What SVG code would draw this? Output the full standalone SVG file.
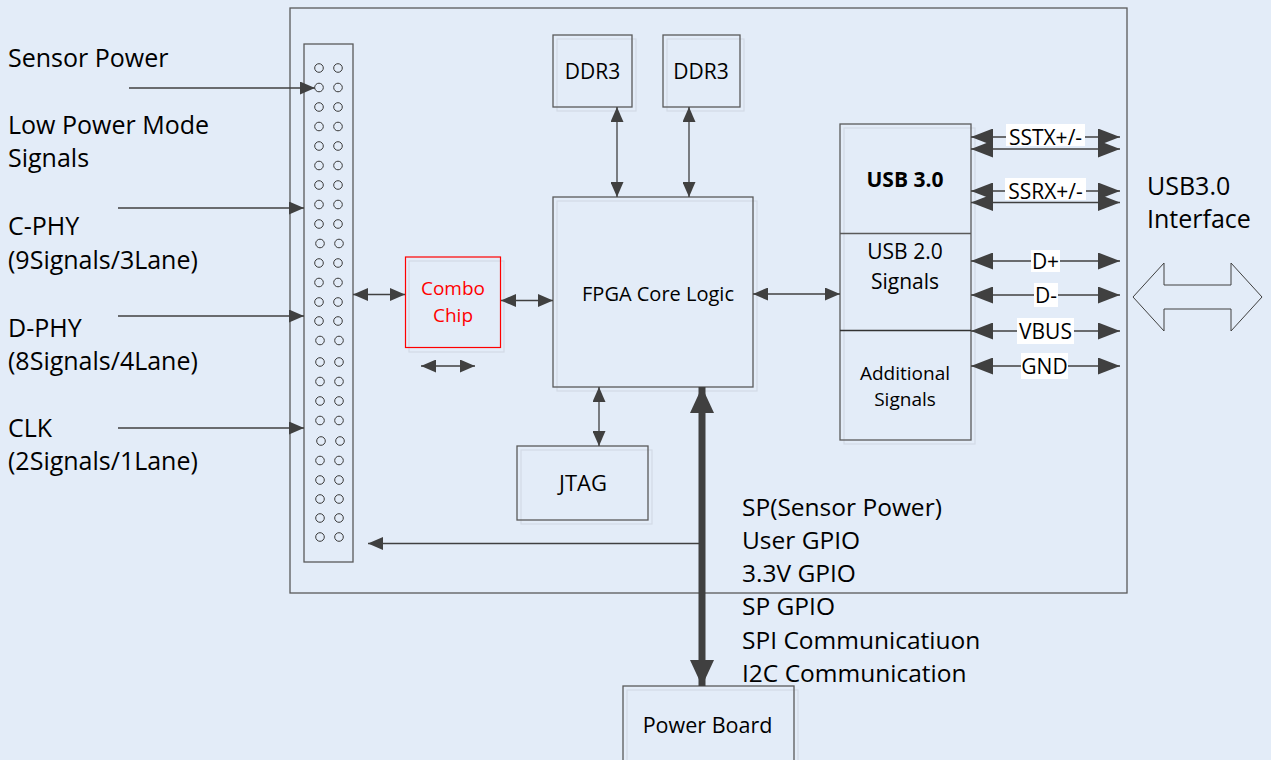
<svg xmlns="http://www.w3.org/2000/svg" width="1271" height="760" viewBox="0 0 1271 760">
<defs>
<style>
.t{font-family:"Open Sans","Liberation Sans",sans-serif;fill:#000}
.lbl{font-size:25px}
.bl{font-size:24.5px}
.in{font-size:21px;text-anchor:middle}
.box{fill:none;stroke:#5A5A5A;stroke-width:1.3}
.sh{fill:none;stroke:#D2DAE6;stroke-width:1.2}
.ln{fill:none;stroke:#404040;stroke-width:1.3}
.dot{fill:none;stroke:#3A3A3A;stroke-width:1}
.wb{fill:#FFFFFF}
</style>
<marker id="sm" markerUnits="userSpaceOnUse" markerWidth="15" markerHeight="13" refX="15" refY="6.5" orient="auto-start-reverse"><path d="M0,0 L15,6.5 L0,13 z" fill="#404040"/></marker>
<marker id="big" markerUnits="userSpaceOnUse" markerWidth="22" markerHeight="17" refX="22" refY="8.5" orient="auto-start-reverse"><path d="M0,0 L22,8.5 L0,17 z" fill="#404040"/></marker>
<marker id="thick" markerUnits="userSpaceOnUse" markerWidth="26" markerHeight="24" refX="26" refY="12" orient="auto-start-reverse"><path d="M0,0 L26,12 L0,24 z" fill="#404040"/></marker>
</defs>
<rect x="0" y="0" width="1271" height="760" fill="#E3ECF8"/>

<g id="frame"><rect x="290" y="8" width="837" height="585" class="box"/></g>

<g id="connector">
<rect x="304" y="44" width="49" height="518" class="box"/>
<g id="pins">
<circle cx="319" cy="68" r="4.3" class="dot"/><circle cx="338" cy="68" r="4.3" class="dot"/>
<circle cx="319" cy="87.5" r="4.3" class="dot"/><circle cx="338" cy="87.5" r="4.3" class="dot"/>
<circle cx="319" cy="107" r="4.3" class="dot"/><circle cx="338" cy="107" r="4.3" class="dot"/>
<circle cx="319" cy="126.5" r="4.3" class="dot"/><circle cx="338" cy="126.5" r="4.3" class="dot"/>
<circle cx="319" cy="146" r="4.3" class="dot"/><circle cx="338" cy="146" r="4.3" class="dot"/>
<circle cx="319" cy="165.5" r="4.3" class="dot"/><circle cx="338" cy="165.5" r="4.3" class="dot"/>
<circle cx="319" cy="185" r="4.3" class="dot"/><circle cx="338" cy="185" r="4.3" class="dot"/>
<circle cx="319" cy="204.5" r="4.3" class="dot"/><circle cx="338" cy="204.5" r="4.3" class="dot"/>
<circle cx="319" cy="224" r="4.3" class="dot"/><circle cx="338" cy="224" r="4.3" class="dot"/>
<circle cx="320" cy="243.5" r="4.3" class="dot"/><circle cx="339" cy="243.5" r="4.3" class="dot"/>
<circle cx="319" cy="263" r="4.3" class="dot"/><circle cx="338" cy="263" r="4.3" class="dot"/>
<circle cx="319" cy="282.5" r="4.3" class="dot"/><circle cx="338" cy="282.5" r="4.3" class="dot"/>
<circle cx="319" cy="302" r="4.3" class="dot"/><circle cx="338" cy="302" r="4.3" class="dot"/>
<circle cx="319" cy="321" r="4.3" class="dot"/><circle cx="338" cy="321" r="4.3" class="dot"/>
<circle cx="320" cy="340.5" r="4.3" class="dot"/><circle cx="339" cy="340.5" r="4.3" class="dot"/>
<circle cx="320" cy="362" r="4.3" class="dot"/><circle cx="339" cy="362" r="4.3" class="dot"/>
<circle cx="320" cy="381.5" r="4.3" class="dot"/><circle cx="339" cy="381.5" r="4.3" class="dot"/>
<circle cx="320" cy="401" r="4.3" class="dot"/><circle cx="339" cy="401" r="4.3" class="dot"/>
<circle cx="320" cy="420.5" r="4.3" class="dot"/><circle cx="339" cy="420.5" r="4.3" class="dot"/>
<circle cx="321" cy="441" r="4.3" class="dot"/><circle cx="340" cy="441" r="4.3" class="dot"/>
<circle cx="320" cy="460.5" r="4.3" class="dot"/><circle cx="339" cy="460.5" r="4.3" class="dot"/>
<circle cx="320" cy="480" r="4.3" class="dot"/><circle cx="339" cy="480" r="4.3" class="dot"/>
<circle cx="320" cy="499" r="4.3" class="dot"/><circle cx="339" cy="499" r="4.3" class="dot"/>
<circle cx="320" cy="518" r="4.3" class="dot"/><circle cx="339" cy="518" r="4.3" class="dot"/>
<circle cx="320" cy="537" r="4.3" class="dot"/><circle cx="339" cy="537" r="4.3" class="dot"/>
</g>
</g>

<g id="inputs">
<text class="t lbl" x="8" y="66.5">Sensor Power</text>
<text class="t lbl" x="8" y="133.5">Low Power Mode</text>
<text class="t lbl" x="8" y="167">Signals</text>
<text class="t lbl" x="8" y="235">C-PHY</text>
<text class="t lbl" x="8" y="268.5">(9Signals/3Lane)</text>
<text class="t lbl" x="8" y="336.5">D-PHY</text>
<text class="t lbl" x="8" y="370">(8Signals/4Lane)</text>
<text class="t lbl" x="8" y="437">CLK</text>
<text class="t lbl" x="8" y="470">(2Signals/1Lane)</text>
</g>

<g id="ddr3-1">
<rect x="557" y="39" width="79" height="72" class="sh"/>
<rect x="553" y="35" width="79" height="72" class="box"/>
<text class="t in" x="592.5" y="79">DDR3</text>
</g>
<g id="ddr3-2">
<rect x="667" y="39" width="77" height="72" class="sh"/>
<rect x="663" y="35" width="77" height="72" class="box"/>
<text class="t in" x="701" y="79">DDR3</text>
</g>

<g id="fpga">
<rect x="557" y="201" width="200" height="190" class="sh"/>
<rect x="553" y="197" width="200" height="190" class="box"/>
<text class="t" x="658" y="301" font-size="20" text-anchor="middle">FPGA Core Logic</text>
</g>

<g id="combo">
<rect x="409" y="261" width="95" height="91" class="sh"/>
<rect x="405.5" y="257" width="95" height="90.5" fill="none" stroke="#FF0000" stroke-width="1.2"/>
<text class="t" x="453" y="295" font-size="19" text-anchor="middle" style="fill:#FF0000">Combo</text>
<text class="t" x="453" y="321.5" font-size="19" text-anchor="middle" style="fill:#FF0000">Chip</text>
</g>

<g id="jtag">
<rect x="521" y="450" width="131" height="74" class="sh"/>
<rect x="517" y="446" width="131" height="74" class="box"/>
<text class="t" x="583" y="491" font-size="22" text-anchor="middle">JTAG</text>
</g>

<g id="power-board">
<rect x="627" y="690" width="171" height="80" class="sh"/>
<rect x="623" y="686" width="171" height="80" class="box"/>
<text class="t" x="707.5" y="733" font-size="21.5" text-anchor="middle">Power Board</text>
</g>

<g id="usb">
<rect x="844" y="128" width="131" height="316" class="sh"/>
<rect x="840" y="124" width="131" height="316" class="box"/>
<line x1="840" y1="233.5" x2="971" y2="233.5" class="box"/>
<line x1="840" y1="330.5" x2="971" y2="330.5" stroke="#333" stroke-width="1.3"/>
<text class="t in" x="905" y="187" font-weight="bold">USB 3.0</text>
<text class="t in" x="905" y="259">USB 2.0</text>
<text class="t in" x="905" y="289">Signals</text>
<text class="t" x="905" y="380" font-size="19" text-anchor="middle">Additional</text>
<text class="t" x="905" y="406" font-size="19" text-anchor="middle">Signals</text>
</g>

<g id="usb-interface">
<text class="t lbl" x="1147" y="195">USB3.0</text>
<text class="t lbl" x="1147" y="228">Interface</text>
<polygon points="1133,297 1164,263 1164,285 1231,285 1231,263 1262,297 1231,331 1231,309 1164,309 1164,331" fill="none" stroke="#404040" stroke-width="1"/>
</g>

<g id="bus-labels">
<text class="t bl" x="742" y="516">SP(Sensor Power)</text>
<text class="t bl" x="742" y="548.5">User GPIO</text>
<text class="t bl" x="742" y="582">3.3V GPIO</text>
<text class="t bl" x="742" y="614.5">SP GPIO</text>
<text class="t bl" x="742" y="648.5">SPI Communicatiuon</text>
<text class="t bl" x="742" y="682">I2C Communication</text>
</g>

<g id="connectors">
<line x1="129" y1="88" x2="315" y2="88" class="ln" marker-end="url(#sm)"/>
<line x1="118" y1="208" x2="304" y2="208" class="ln" marker-end="url(#sm)"/>
<line x1="118" y1="316" x2="304" y2="316" class="ln" marker-end="url(#sm)"/>
<line x1="118" y1="428" x2="304" y2="428" class="ln" marker-end="url(#sm)"/>
<line x1="353" y1="294.5" x2="405" y2="294.5" class="ln" marker-start="url(#sm)" marker-end="url(#sm)"/>
<line x1="501" y1="300.5" x2="553" y2="300.5" class="ln" marker-start="url(#sm)" marker-end="url(#sm)"/>
<line x1="421" y1="366" x2="475" y2="366" class="ln" marker-start="url(#sm)" marker-end="url(#sm)"/>
<line x1="617" y1="107" x2="617" y2="197" class="ln" marker-start="url(#sm)" marker-end="url(#sm)"/>
<line x1="689" y1="107" x2="689" y2="197" class="ln" marker-start="url(#sm)" marker-end="url(#sm)"/>
<line x1="599" y1="387" x2="599" y2="446" class="ln" marker-start="url(#sm)" marker-end="url(#sm)"/>
<line x1="753" y1="294" x2="840" y2="294" class="ln" marker-start="url(#sm)" marker-end="url(#sm)"/>
<line x1="702" y1="387" x2="702" y2="686" stroke="#404040" stroke-width="7" marker-start="url(#thick)" marker-end="url(#thick)"/>
<line x1="702" y1="543.5" x2="368" y2="543.5" class="ln" marker-end="url(#sm)"/>

<line x1="971" y1="137" x2="1120" y2="137" class="ln" marker-start="url(#big)" marker-end="url(#big)"/>
<rect x="1006" y="124" width="79" height="22" class="wb"/>
<text class="t" x="1045.5" y="144.5" font-size="21" text-anchor="middle">SSTX+/-</text>
<line x1="971" y1="149" x2="1120" y2="149" class="ln" marker-start="url(#big)" marker-end="url(#big)"/>

<line x1="971" y1="191" x2="1120" y2="191" class="ln" marker-start="url(#big)" marker-end="url(#big)"/>
<rect x="1005" y="178" width="81" height="22" class="wb"/>
<text class="t" x="1045.5" y="198.5" font-size="21" text-anchor="middle">SSRX+/-</text>
<line x1="971" y1="202.5" x2="1120" y2="202.5" class="ln" marker-start="url(#big)" marker-end="url(#big)"/>

<line x1="971" y1="261" x2="1120" y2="261" class="ln" marker-start="url(#big)" marker-end="url(#big)"/>
<rect x="1031" y="250" width="29" height="22" class="wb"/>
<text class="t" x="1045.5" y="269" font-size="21" text-anchor="middle">D+</text>

<line x1="971" y1="295" x2="1120" y2="295" class="ln" marker-start="url(#big)" marker-end="url(#big)"/>
<rect x="1034" y="283" width="24" height="24" class="wb"/>
<text class="t" x="1046" y="303" font-size="21" text-anchor="middle">D-</text>

<line x1="971" y1="331" x2="1120" y2="331" class="ln" marker-start="url(#big)" marker-end="url(#big)"/>
<rect x="1017" y="318" width="57" height="26" class="wb"/>
<text class="t" x="1045.5" y="339" font-size="21" text-anchor="middle">VBUS</text>

<line x1="971" y1="366" x2="1120" y2="366" class="ln" marker-start="url(#big)" marker-end="url(#big)"/>
<rect x="1021" y="353" width="47" height="26" class="wb"/>
<text class="t" x="1044.5" y="374" font-size="21" text-anchor="middle">GND</text>
</g>
</svg>
